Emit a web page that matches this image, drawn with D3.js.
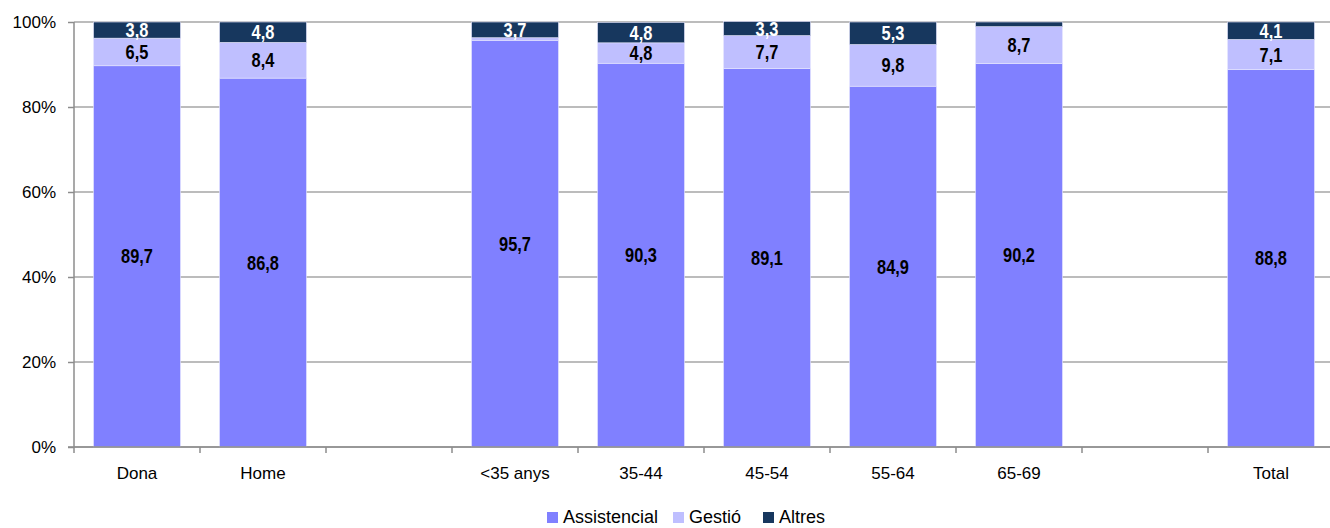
<!DOCTYPE html>
<html>
<head>
<meta charset="utf-8">
<script src="https://cdn.jsdelivr.net/npm/d3@7"></script>
<style>
  body { margin: 0; background: #fff; }
  svg text { font-family: "Liberation Sans", Arial, sans-serif; }
  .val { font-weight: bold; }
</style>
</head>
<body>
<div id="chart"></div>
<script>
// slots: the blank ones keep the gaps of the original chart
const categories = ["Dona", "Home", "gap1", "<35 anys", "35-44", "45-54", "55-64", "65-69", "gap2", "Total"];
const assistencial = [89.7, 86.8, null, 95.7, 90.3, 89.1, 84.9, 90.2, null, 88.8];
const gestio       = [6.5, 8.4, null, 0.6, 4.8, 7.7, 9.8, 8.7, null, 7.1];
const altres       = [3.8, 4.8, null, 3.7, 4.8, 3.3, 5.3, 1.1, null, 4.1];
const seriesNames = ["Assistencial", "Gestió", "Altres"];
const yTicks = [0, 20, 40, 60, 80, 100];

const width = 1330, height = 528;
const margin = {top: 22, right: -4, bottom: 81, left: 74};
const colors = {"Assistencial": "#8080ff", "Gestió": "#bfbfff", "Altres": "#17375e"};
const labelColors = {"Assistencial": "#000", "Gestió": "#000", "Altres": "#fff"};

const rows = categories.map((c, i) => ({
  cat: c,
  "Assistencial": assistencial[i],
  "Gestió": gestio[i],
  "Altres": altres[i]
})).filter(d => d["Assistencial"] != null);

const svg = d3.select("#chart").append("svg")
  .attr("width", width)
  .attr("height", height);

const x = d3.scaleBand()
  .domain(categories)
  .range([margin.left, width - margin.right])
  .paddingInner(0.31)
  .paddingOuter(0.155);

const y = d3.scaleLinear()
  .domain([0, 100])
  .range([height - margin.bottom, margin.top]);

// gridlines
svg.append("g")
  .selectAll("line")
  .data(yTicks)
  .join("line")
    .attr("x1", margin.left)
    .attr("x2", width)
    .attr("y1", d => y(d))
    .attr("y2", d => y(d))
    .attr("stroke", "#a6a6a6")
    .attr("stroke-width", 1.5);

const stack = d3.stack().keys(seriesNames);
const stacked = stack(rows);

const layers = svg.append("g")
  .selectAll("g")
  .data(stacked)
  .join("g")
    .attr("fill", d => colors[d.key]);

layers.selectAll("rect")
  .data(d => d)
  .join("rect")
    .attr("x", d => x(d.data.cat))
    .attr("width", x.bandwidth())
    .attr("y", d => y(d[1]))
    .attr("height", d => y(d[0]) - y(d[1]))
    .attr("stroke", "#e6e6ff")
    .attr("stroke-width", 0.6);

// value labels (too thin segments get none); narrow bold look via horizontal squeeze
stacked.forEach(layer => {
  svg.append("g")
    .selectAll("text")
    .data(layer.filter(d => d[1] - d[0] >= 2))
    .join("text")
      .attr("class", "val")
      .attr("transform", d => `translate(${x(d.data.cat) + x.bandwidth() / 2},${y((d[0] + d[1]) / 2)}) scale(0.82,1)`)
      .attr("dy", "0.35em")
      .attr("text-anchor", "middle")
      .attr("font-size", 20)
      .attr("fill", labelColors[layer.key])
      .text(d => d3.format(".1f")(d[1] - d[0]).replace(".", ","));
});

// y axis
const yAxis = svg.append("g")
  .attr("transform", `translate(${margin.left},0)`)
  .call(d3.axisLeft(y).tickValues(yTicks).tickSize(6).tickPadding(12).tickFormat(d => d + "%"));
yAxis.selectAll("line, path").attr("stroke", "#8c8c8c").attr("stroke-width", 1.5);
yAxis.select(".domain").attr("d", `M0,${y(0)}V${y(100)}`);
yAxis.selectAll("text").attr("font-size", 17).attr("fill", "#000")
  .style("font-family", "'Liberation Sans', Arial, sans-serif");

// x axis, ticks on slot boundaries
const xAxis = svg.append("g")
  .attr("transform", `translate(0,${y(0)})`);
xAxis.append("line")
  .attr("x1", margin.left - 6)
  .attr("x2", width)
  .attr("stroke", "#8c8c8c")
  .attr("stroke-width", 1.5);
const step = x.step();
xAxis.selectAll(".tk")
  .data(d3.range(categories.length + 1))
  .join("line")
    .attr("class", "tk")
    .attr("x1", i => margin.left + i * step)
    .attr("x2", i => margin.left + i * step)
    .attr("y1", 0)
    .attr("y2", 6)
    .attr("stroke", "#8c8c8c")
    .attr("stroke-width", 1.5);
xAxis.selectAll(".lbl")
  .data(categories.filter(c => !c.startsWith("gap")))
  .join("text")
    .attr("class", "lbl")
    .attr("x", d => x(d) + x.bandwidth() / 2)
    .attr("y", 32)
    .attr("text-anchor", "middle")
    .attr("font-size", 17)
    .text(d => d);

// legend
const legend = svg.append("g")
  .attr("transform", `translate(547,${height - 5})`);
const legendX = [0, 126, 216];
seriesNames.forEach((s, i) => {
  const g = legend.append("g").attr("transform", `translate(${legendX[i]},0)`);
  g.append("rect")
    .attr("x", 0).attr("y", -11)
    .attr("width", 11).attr("height", 11)
    .attr("fill", colors[s]);
  g.append("text")
    .attr("x", 16).attr("y", 0)
    .attr("font-size", 18)
    .text(s);
});
</script>
</body>
</html>
